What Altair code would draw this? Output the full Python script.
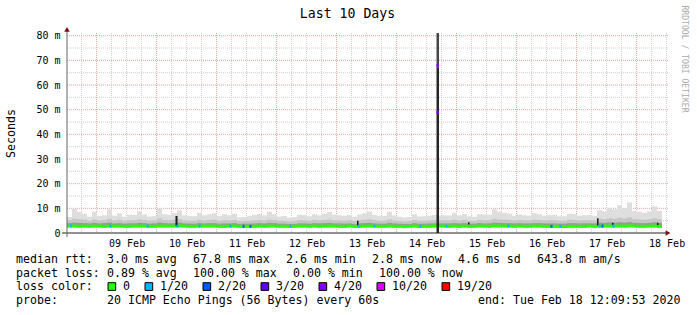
import altair as alt
import pandas as pd

# ---------------- data ----------------
# time axis in hours since graph start (Sat Feb 08 12:09:53 2020 = end - 10 days)
DAY_LABELS = ["09 Feb", "10 Feb", "11 Feb", "12 Feb", "13 Feb",
              "14 Feb", "15 Feb", "16 Feb", "17 Feb", "18 Feb"]
FIRST_MIDNIGHT_H = 11.835          # Sun Feb 09 00:00
Y_TICKS = [0, 10, 20, 30, 40, 50, 60, 70, 80]
Y_MAX = 81.1                       # ms, top of the plot
BIN_H = 2.0                        # hours per smoke column

# top of the light smoke (max ping), ms
smoke_max = [
    6.5, 9.8, 8.5, 7.8, 6.6, 8.6, 7.0, 7.2, 9.6, 7.0,
    8.0, 6.6, 7.4, 7.3, 8.8, 7.5, 6.7, 6.9, 10.0, 7.6,
    7.4, 8.0, 9.2, 7.2, 7.0, 6.8, 8.2, 7.2, 7.6, 8.0,
    6.9, 7.6, 7.2, 7.8, 6.3, 6.5, 6.9, 7.3, 7.7, 7.2,
    8.6, 7.6, 6.7, 6.9, 6.2, 6.4, 7.4, 7.3, 6.8, 7.6,
    7.2, 7.8, 8.5, 7.4, 7.2, 7.0, 7.3, 6.6, 7.5, 8.0,
    8.7, 7.3, 7.0, 6.9, 8.6, 7.1, 6.6, 6.3, 6.5, 7.6,
    6.7, 6.8, 7.0, 7.3, 7.0, 7.2, 7.1, 8.2, 7.2, 7.6,
    6.8, 6.6, 7.6, 7.5, 7.4, 9.6, 8.6, 8.2, 7.9, 7.0,
    7.5, 7.2, 7.0, 8.0, 7.6, 7.0, 7.2, 7.4, 6.8, 6.8,
    7.8, 7.7, 7.0, 7.2, 7.3, 7.0, 9.3, 8.8, 10.2, 9.6,
    11.2, 10.0, 12.4, 8.9, 8.6, 8.2, 8.8, 10.8, 8.9,
]
# top of the medium smoke band, ms
smoke_mid = [
    5.2, 5.8, 5.6, 5.4, 5.0, 5.5, 5.1, 5.2, 5.8, 5.1,
    5.4, 5.0, 5.2, 5.2, 5.6, 5.3, 5.0, 5.1, 5.9, 5.3,
    5.2, 5.4, 5.7, 5.1, 5.0, 5.0, 5.4, 5.1, 5.3, 5.4,
    5.0, 5.2, 5.1, 5.3, 4.8, 4.9, 5.0, 5.2, 5.3, 5.1,
    5.5, 5.3, 5.0, 5.0, 4.8, 4.9, 5.2, 5.2, 5.0, 5.3,
    5.1, 5.3, 5.5, 5.2, 5.1, 5.0, 5.2, 4.9, 5.2, 5.4,
    5.6, 5.2, 5.0, 5.0, 5.5, 5.1, 4.9, 4.8, 4.9, 5.3,
    5.0, 5.0, 5.1, 5.2, 5.1, 5.2, 5.1, 5.4, 5.1, 5.3,
    5.0, 4.9, 5.3, 5.2, 5.2, 5.8, 5.5, 5.4, 5.3, 5.1,
    5.3, 5.2, 5.1, 5.4, 5.3, 5.1, 5.2, 5.2, 5.0, 5.0,
    5.4, 5.3, 5.1, 5.2, 5.2, 5.1, 5.8, 5.6, 6.0, 5.8,
    6.2, 5.9, 6.3, 5.6, 5.5, 5.4, 5.6, 6.0, 5.6,
]
# top of the dark smoke just above the median, ms
smoke_low = [
    4.0, 4.2, 4.1, 4.0, 3.9, 4.1, 3.9, 4.0, 4.2, 3.9,
    4.0, 3.8, 3.9, 3.9, 4.1, 4.0, 3.8, 3.9, 4.2, 4.0,
    3.9, 4.0, 4.2, 3.9, 3.8, 3.8, 4.0, 3.9, 4.0, 4.0,
    3.8, 3.9, 3.9, 4.0, 3.7, 3.8, 3.8, 3.9, 4.0, 3.9,
    4.1, 4.0, 3.8, 3.8, 3.7, 3.7, 3.9, 3.9, 3.8, 4.0,
    3.9, 4.0, 4.1, 3.9, 3.9, 3.8, 3.9, 3.7, 3.9, 4.0,
    4.1, 3.9, 3.8, 3.8, 4.1, 3.9, 3.8, 3.7, 3.7, 4.0,
    3.8, 3.8, 3.9, 3.9, 3.9, 3.9, 3.9, 4.0, 3.9, 4.0,
    3.8, 3.8, 4.0, 3.9, 3.9, 4.2, 4.1, 4.0, 4.0, 3.9,
    4.0, 3.9, 3.9, 4.0, 4.0, 3.9, 3.9, 3.9, 3.8, 3.8,
    4.0, 4.0, 3.9, 3.9, 3.9, 3.9, 4.2, 4.1, 4.3, 4.2,
    4.4, 4.2, 4.4, 4.1, 4.0, 4.0, 4.1, 4.3, 4.1,
]
# median rtt, ms
median_rtt = [
    2.8, 2.8, 2.7, 2.8, 2.7, 2.8, 2.8, 2.7, 2.8, 2.8,
    2.8, 2.7, 2.7, 2.8, 2.8, 2.8, 2.7, 2.7, 2.8, 2.8,
    2.8, 2.8, 2.9, 2.8, 2.7, 2.7, 2.8, 2.8, 2.8, 2.8,
    2.7, 2.7, 2.8, 2.8, 2.7, 2.7, 2.7, 2.7, 2.8, 2.7,
    2.8, 2.8, 2.7, 2.7, 2.7, 2.7, 2.8, 2.8, 2.7, 2.8,
    2.7, 2.8, 2.8, 2.8, 2.7, 2.7, 2.8, 2.7, 2.7, 2.8,
    2.8, 2.8, 2.7, 2.7, 2.8, 2.7, 2.7, 2.6, 2.7, 2.8,
    2.7, 2.7, 2.7, 2.8, 2.8, 2.8, 2.7, 2.8, 2.7, 2.8,
    2.7, 2.7, 2.8, 2.8, 2.7, 2.9, 2.8, 2.8, 2.8, 2.7,
    2.8, 2.7, 2.7, 2.8, 2.8, 2.7, 2.7, 2.7, 2.7, 2.6,
    2.7, 2.7, 2.7, 2.7, 2.8, 2.7, 2.8, 2.8, 2.8, 2.8,
    2.8, 2.8, 2.9, 2.8, 2.7, 2.7, 2.8, 2.8, 2.7,
]

# loss events on the median line (hour, loss level)
loss_hours = [1.2, 17.0, 31.8, 43.8, 52.6, 65.0, 70.2, 73.0, 89.0, 116.2,
              122.6, 141.0, 151.4, 176.2, 193.4, 197.0, 212.6, 213.8, 218.2]
loss_levels = ["1/20", "1/20", "1/20", "1/20", "1/20", "1/20", "2/20", "2/20", "1/20", "1/20",
               "1/20", "1/20", "1/20", "1/20", "2/20", "1/20", "1/20", "2/20", "1/20"]

# short dark smoke columns (start h, end h, low ms, high ms)
dark_start = [43.4, 116.0, 160.4, 212.0, 218.0, 236.0]
dark_end = [44.2, 116.6, 161.0, 212.6, 218.6, 236.6]
dark_low = [2.9, 3.0, 3.4, 3.0, 3.2, 3.2]
dark_high = [6.9, 5.0, 4.4, 6.0, 4.2, 4.2]

# the Feb 14 outage spike
spike_start, spike_end = 147.8, 148.8
spike_median_vals = [67.8, 49.0]
spike_split = 67.0

# legend texts
LOSS_LABELS = ["0", "1/20", "2/20", "3/20", "4/20", "10/20", "19/20"]
LOSS_COLORS = ["#26ff00", "#00b8ff", "#0059ff", "#5e00ff", "#7e00ff", "#dd00ff", "#ff0000"]
ROW1 = ["median rtt:", "3.0 ms avg", "67.8 ms max", "2.6 ms min", "2.8 ms now", "4.6 ms sd", "643.8 m am/s"]
ROW2 = ["packet loss:", "0.89 % avg", "100.00 % max", "0.00 % min", "100.00 % now"]
ROW3_LABEL = "loss color:"
ROW4 = ["probe:", "20 ICMP Echo Pings (56 Bytes) every 60s"]
END_TEXT = "end: Tue Feb 18 12:09:53 2020"
TITLE = "Last 10 Days"
Y_TITLE = "Seconds"
SIDE_TEXT = "RRDTOOL / TOBI OETIKER"

# ---------------- layout / style ----------------
W, H = 600, 200
PL, PT = 67, 33
FONT = "DejaVu Sans Mono"
LEG_FS = 11.6
CW = 7.0
GAP = 16.0

xs = alt.Scale(domain=[0, 240], nice=False, zero=False)
ys = alt.Scale(domain=[0, Y_MAX], nice=False, zero=True)

n = len(smoke_max)
smoke = pd.DataFrame({
    "t0": [k * BIN_H for k in range(n)],
    "t1": [(k + 1) * BIN_H for k in range(n)],
    "mx": smoke_max, "md": smoke_mid, "lo": smoke_low, "med": median_rtt,
})

noon_hours = [FIRST_MIDNIGHT_H + 12 + 24 * i for i in range(10)]
label_arr = "[" + ",".join("'%s'" % d for d in DAY_LABELS) + "]"
XA = alt.Axis(values=noon_hours,
              labelExpr=f"{label_arr}[round((datum.value - {noon_hours[0]}) / 24)]",
              labelFont=FONT, labelFontSize=10, labelColor="#000",
              ticks=False, domain=False, grid=False, labelPadding=5,
              labelFlush=False, labelOverlap=False, title=None)
YA = alt.Axis(values=Y_TICKS,
              labelExpr="datum.value == 0 ? '0' : datum.value + ' m'",
              labelFont=FONT, labelFontSize=10, labelColor="#000",
              ticks=False, domain=False, grid=False, labelPadding=7,
              labelFlush=False, labelOverlap=False,
              title=Y_TITLE, titleFont=FONT, titleFontSize=LEG_FS,
              titleFontWeight="normal", titleColor="#000", titleAngle=270,
              titleX=11 - PL, titleY=133 - PT, titleAlign="center",
              titleBaseline="middle")


def X(field):
    return alt.X(field, scale=xs, axis=XA, title=None)


def Y(field):
    return alt.Y(field, scale=ys, axis=YA, title=Y_TITLE)


vminor = pd.DataFrame({"h": [FIRST_MIDNIGHT_H - 6 + 6 * i for i in range(40)
                             if i % 4 != 1 and FIRST_MIDNIGHT_H - 6 + 6 * i <= 240]})
vmajor = pd.DataFrame({"h": [FIRST_MIDNIGHT_H + 24 * i for i in range(10)]})
hminor = pd.DataFrame({"v": [5, 15, 25, 35, 45, 55, 65, 75]})
hmajor = pd.DataFrame({"v": Y_TICKS[1:]})

MINOR_C = "#cfcfcf"
MAJOR_C = "#e3a6a6"

grid = [
    alt.Chart(vminor).mark_rule(color=MINOR_C, strokeDash=[1, 1], strokeWidth=1).encode(
        x=X("h:Q"), y=alt.value(0), y2=alt.value(H)),
    alt.Chart(hminor).mark_rule(color=MINOR_C, strokeDash=[1, 1], strokeWidth=1).encode(
        y=Y("v:Q"), x=alt.value(0), x2=alt.value(W + 1)),
    alt.Chart(vmajor).mark_rule(color=MAJOR_C, strokeDash=[1, 1], strokeWidth=1).encode(
        x=X("h:Q"), y=alt.value(0), y2=alt.value(H)),
    alt.Chart(hmajor).mark_rule(color=MAJOR_C, strokeDash=[1, 1], strokeWidth=1).encode(
        y=Y("v:Q"), x=alt.value(0), x2=alt.value(W + 1)),
]

base = alt.Chart(smoke)
smoke_layers = [
    base.mark_rect(color="#dedede").encode(x=X("t0:Q"), x2="t1:Q", y=Y("med:Q"), y2="mx:Q"),
    base.mark_rect(color="#c6c6c6").encode(x=X("t0:Q"), x2="t1:Q", y=Y("med:Q"), y2="md:Q"),
    base.mark_rect(color="#9a9a9a").encode(x=X("t0:Q"), x2="t1:Q", y=Y("med:Q"), y2="lo:Q"),
    base.transform_calculate(a="datum.med - 0.62", b="datum.med + 0.62").mark_rect(
        color=LOSS_COLORS[0]).encode(x=X("t0:Q"), x2="t1:Q", y=Y("a:Q"), y2="b:Q"),
]

dark = pd.DataFrame({"s": dark_start, "e": dark_end, "lo": dark_low, "hi": dark_high})
dark_layer = alt.Chart(dark).mark_rect(color="#1a1a1a").encode(
    x=X("s:Q"), x2="e:Q", y=Y("lo:Q"), y2="hi:Q")

loss = pd.DataFrame({
    "s": loss_hours,
    "e": [h + 0.8 for h in loss_hours],
    "lvl": loss_levels,
    "m": [median_rtt[min(int(h // BIN_H), n - 1)] for h in loss_hours],
})
loss_layer = alt.Chart(loss).transform_calculate(
    a="datum.m - 0.62", b="datum.m + 0.62").mark_rect().encode(
    x=X("s:Q"), x2="e:Q", y=Y("a:Q"), y2="b:Q",
    color=alt.Color("lvl:N", scale=alt.Scale(domain=LOSS_LABELS, range=LOSS_COLORS), legend=None))

spike = pd.DataFrame({"s": [spike_start, spike_start], "e": [spike_end, spike_end],
                      "lo": [0, spike_split], "hi": [spike_split, Y_MAX],
                      "c": ["#262626", "#474747"]})
spike_layer = alt.Chart(spike).mark_rect().encode(
    x=X("s:Q"), x2="e:Q", y=Y("lo:Q"), y2="hi:Q",
    color=alt.Color("c:N", scale=None, legend=None))
spike_pts = pd.DataFrame({"s": [spike_start] * 2, "e": [spike_end] * 2,
                          "m": spike_median_vals})
spike_loss = alt.Chart(spike_pts).transform_calculate(
    a="datum.m - 0.7", b="datum.m + 0.7").mark_rect(color=LOSS_COLORS[4]).encode(
    x=X("s:Q"), x2="e:Q", y=Y("a:Q"), y2="b:Q")

# axis lines and arrows
axes_df = pd.DataFrame({"x0": [-2.0], "x1": [240.4], "y0": [-1.6], "y1": [82.6], "z": [0.0]})
x_line = alt.Chart(axes_df).mark_rule(color="#222", strokeWidth=1).encode(
    x=X("x0:Q"), x2="x1:Q", y=Y("z:Q"))
y_line = alt.Chart(axes_df).mark_rule(color="#666", strokeWidth=1).encode(
    y=Y("y0:Q"), y2="y1:Q", x=X("z:Q"))
arrow_r = alt.Chart(axes_df).mark_point(shape="triangle-right", filled=True, size=30,
                                        color="#7a1010", opacity=1).encode(
    x=X("x1:Q"), y=Y("z:Q"))
arrow_u = alt.Chart(axes_df).mark_point(shape="triangle-up", filled=True, size=30,
                                        color="#7a1010", opacity=1).encode(
    x=X("z:Q"), y=Y("y1:Q"))


def txt(s, x, y, size=LEG_FS, align="left", baseline="alphabetic", color="#000", angle=0):
    return alt.Chart(pd.DataFrame({"s": [s]})).mark_text(
        font=FONT, fontSize=size, align=align, baseline=baseline, color=color,
        angle=angle).encode(text="s:N", x=alt.value(x - PL), y=alt.value(y - PT))


def box(x, y, w, h, color):
    return alt.Chart(pd.DataFrame({"c": [color]})).mark_rect(
        stroke="#000", strokeWidth=1).encode(
        x=alt.value(x - PL), x2=alt.value(x + w - PL),
        y=alt.value(y - PT), y2=alt.value(y + h - PT),
        color=alt.Color("c:N", scale=None, legend=None))


ROW_Y = [262.7, 276.6, 290.4, 304.3]
LX = 16
COL = 107.0
texts = [txt(TITLE, 347.5, 17.5, size=13.2, align="center"),
         txt(SIDE_TEXT, 684, 59, size=8.1, align="center", baseline="middle",
             color="#aaaaaa", angle=90)]
for row, yy in ((ROW1, ROW_Y[0]), (ROW2, ROW_Y[1])):
    texts.append(txt(row[0], LX, yy))
    x = COL
    for seg in row[1:]:
        texts.append(txt(seg, x, yy))
        x += len(seg) * CW + GAP
texts.append(txt(ROW3_LABEL, LX, ROW_Y[2]))
bx = COL + 1
for lab, col in zip(LOSS_LABELS, LOSS_COLORS):
    texts.append(box(bx, ROW_Y[2] - 7.7, 7.7, 7.7, col))
    texts.append(txt(lab, bx + 15, ROW_Y[2]))
    bx = bx + 15 + len(lab) * CW + 15
texts.append(txt(ROW4[0], LX, ROW_Y[3]))
texts.append(txt(ROW4[1], COL, ROW_Y[3]))
texts.append(txt(END_TEXT, 680.5, ROW_Y[3], align="right"))

chart = alt.layer(
    *grid, *smoke_layers, dark_layer, loss_layer, spike_layer, spike_loss,
    x_line, y_line, arrow_r, arrow_u, *texts
).properties(
    width=W, height=H,
    padding={"left": PL, "top": PT, "right": 697 - PL - W, "bottom": 315 - PT - H},
    autosize=alt.AutoSizeParams(type="none"),
    background="white",
).configure_view(stroke=None)

chart.save("out.html", embed_options={"renderer": "svg", "actions": False})
